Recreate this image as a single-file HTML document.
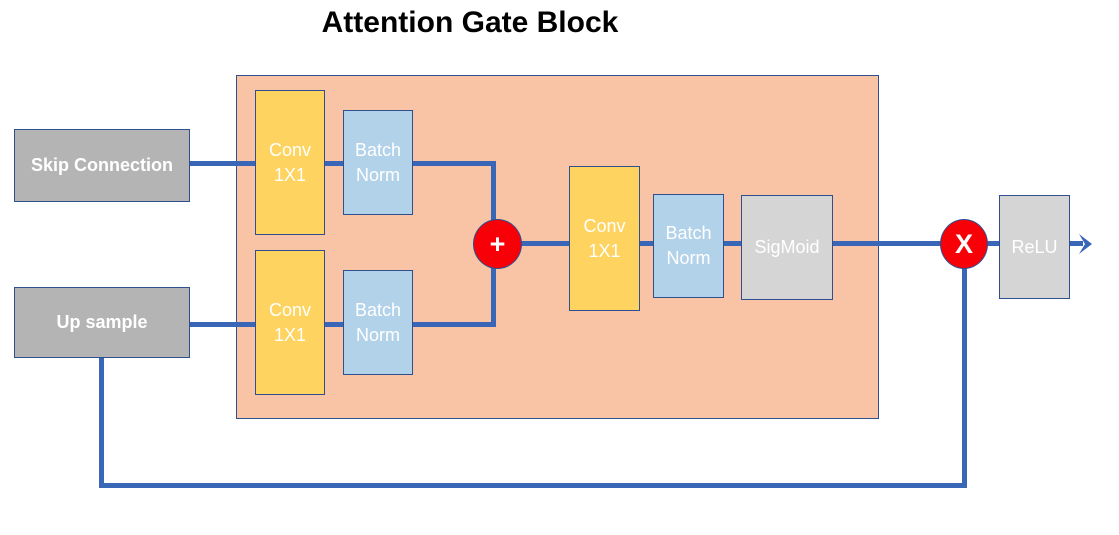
<!DOCTYPE html>
<html><head><style>
body{margin:0;width:1119px;height:535px;background:#fff;position:relative;overflow:hidden;font-family:"Liberation Sans",sans-serif}
.b{position:absolute;box-sizing:border-box;border:1.5px solid #2f4f8f;color:#fff;display:flex;align-items:center;justify-content:center;text-align:center;font-size:18px;line-height:25px}
.l{position:absolute;background:#3a66b8}
.y{background:#fed35f}.bl{background:#b2d2ea}.g{background:#b4b4b4;font-weight:bold}.lg{background:#d5d5d5}
.c{position:absolute;border-radius:50%;background:#f70008;border:1.5px solid #2f4f8f;color:#fff;font-weight:bold;display:flex;align-items:center;justify-content:center;box-sizing:border-box}
</style></head><body>
<div style="position:absolute;left:310px;top:6px;width:320px;text-align:center;font-size:30px;font-weight:bold">Attention Gate Block</div>
<div class="b" style="left:236px;top:75px;width:643px;height:344px;background:#f8c4a5"></div>
<div class="l" style="left:189px;top:161px;width:307px;height:5px"></div>
<div class="l" style="left:189px;top:322px;width:307px;height:5px"></div>
<div class="l" style="left:491px;top:161px;width:5px;height:166px"></div>
<div class="l" style="left:497px;top:241px;width:586px;height:5px"></div>
<div class="l" style="left:99px;top:357px;width:5px;height:131px"></div>
<div class="l" style="left:99px;top:483px;width:868px;height:5px"></div>
<div class="l" style="left:962px;top:246px;width:5px;height:242px"></div>
<svg style="position:absolute;left:1076px;top:232px" width="20" height="24"><path d="M3 2 L16 12 L3 22 L9 12 Z" fill="#3a66b8"/></svg>
<div class="b g" style="left:14px;top:129px;width:176px;height:73px">Skip Connection</div>
<div class="b g" style="left:14px;top:287px;width:176px;height:71px">Up sample</div>
<div class="b y" style="left:255px;top:90px;width:70px;height:145px">Conv<br>1X1</div>
<div class="b bl" style="left:343px;top:110px;width:70px;height:105px">Batch<br>Norm</div>
<div class="b y" style="left:255px;top:250px;width:70px;height:145px">Conv<br>1X1</div>
<div class="b bl" style="left:343px;top:270px;width:70px;height:105px">Batch<br>Norm</div>
<div class="c" style="left:473px;top:219px;width:49px;height:50px;font-size:27px">+</div>
<div class="b y" style="left:569px;top:166px;width:71px;height:145px">Conv<br>1X1</div>
<div class="b bl" style="left:653px;top:194px;width:71px;height:104px">Batch<br>Norm</div>
<div class="b lg" style="left:741px;top:195px;width:92px;height:105px">SigMoid</div>
<div class="c" style="left:940px;top:219px;width:48px;height:50px;font-size:27px">X</div>
<div class="b lg" style="left:999px;top:195px;width:71px;height:104px">ReLU</div>
</body></html>
